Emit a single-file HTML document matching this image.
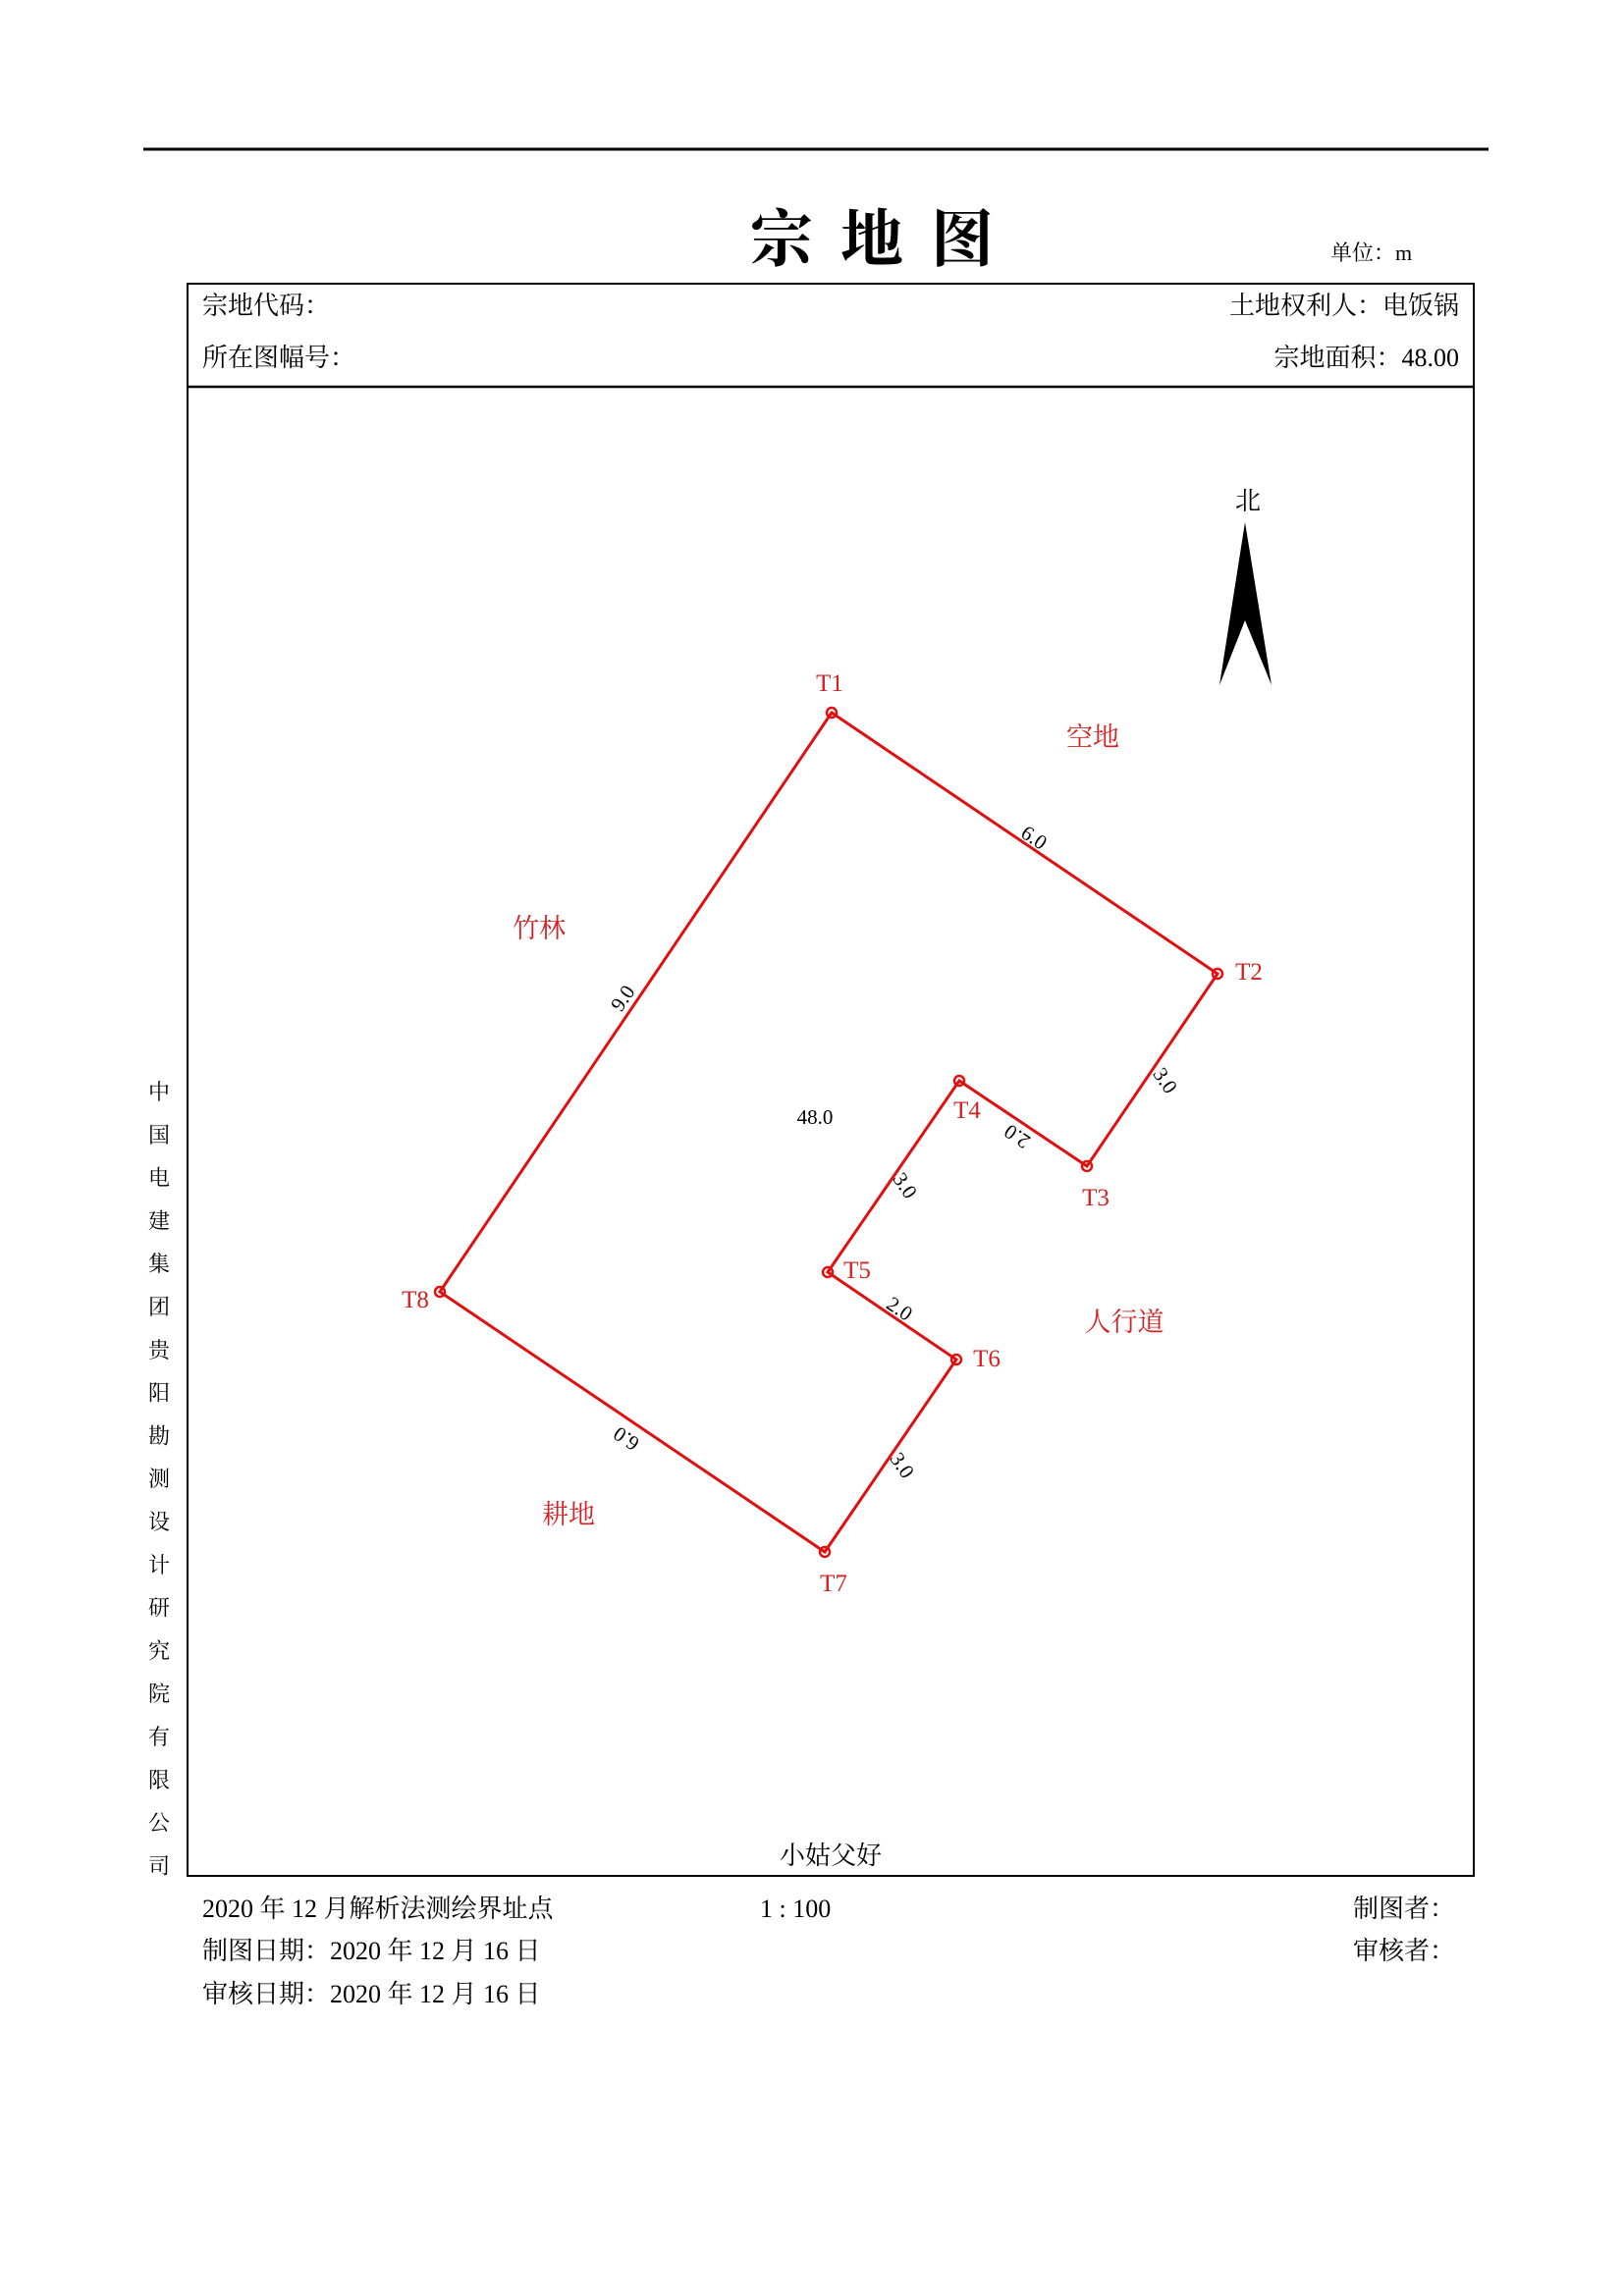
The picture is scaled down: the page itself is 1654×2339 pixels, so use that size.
<!DOCTYPE html>
<html><head><meta charset="utf-8"><style>
html,body{margin:0;padding:0;background:#fff;}
svg{display:block;}
text{font-family:"Liberation Serif","Noto Serif CJK SC",serif;}
</style></head><body>
<svg id="map" width="1654" height="2339" viewBox="0 0 1654 2339" xmlns="http://www.w3.org/2000/svg">
<line x1="146" y1="152" x2="1516" y2="152" stroke="#000" stroke-width="3"/>
<text x="902" y="266" font-size="64" font-weight="bold" text-anchor="middle" letter-spacing="28">宗地图</text>
<text x="1355" y="265" font-size="22">单位：m</text>
<rect x="191" y="289" width="1310" height="1622" fill="none" stroke="#000" stroke-width="2"/>
<line x1="191" y1="394" x2="1501" y2="394" stroke="#000" stroke-width="2.5"/>
<text x="206" y="320" font-size="26">宗地代码：</text>
<text x="1486" y="320" font-size="26" text-anchor="end">土地权利人：电饭锅</text>
<text x="206" y="373" font-size="26">所在图幅号：</text>
<text x="1486" y="373" font-size="26" text-anchor="end">宗地面积：48.00</text>
<text x="1271" y="519" font-size="26" text-anchor="middle">北</text>
<polygon points="1268,532 1295,698 1268,632 1242,698" fill="#000"/>
<g id="parcel"></g>
<g fill="#d42020" font-size="27" text-anchor="middle">
<text x="1113" y="760">空地</text>
<text x="549" y="955">竹林</text>
<text x="1145" y="1356">人行道</text>
<text x="579" y="1552">耕地</text>
</g>
<text x="830" y="1145" font-size="21" text-anchor="middle">48.0</text>
<text x="846" y="1899" font-size="26" text-anchor="middle">小姑父好</text>
<g id="vert" font-size="22" text-anchor="middle"></g>
<g font-size="26">
<text x="206" y="1953">2020 年 12 月解析法测绘界址点</text>
<text x="774" y="1953">1 : 100</text>
<text x="1378" y="1953">制图者：</text>
<text x="206" y="1996">制图日期：2020 年 12 月 16 日</text>
<text x="1378" y="1996">审核者：</text>
<text x="206" y="2040">审核日期：2020 年 12 月 16 日</text>
</g>
</svg>
<script>
const names=["T1","T2","T3","T4","T5","T6","T7","T8"];
const xs=[847,1240,1107,977,843,974,840,448];
const ys=[726,992,1188,1101,1296,1385,1581,1316];
const lengths=["6.0","3.0","2.0","3.0","2.0","3.0","6.0","9.0"];
const labelPos=[[1052,855],[1185,1102],[1037,1156],[920,1209],[915,1335],[917,1494],[639,1464],[636,1018]];
const labelRot=[34,56,214,56,34,56,214,-56];
const nameOff=[[-2,-22],[32,6],[9,40],[8,38],[30,6],[31,7],[9,40],[-25,16]];
const company="中国电建集团贵阳勘测设计研究院有限公司".split("");
const NS="http://www.w3.org/2000/svg";
const g=document.getElementById("parcel");
const poly=document.createElementNS(NS,"polygon");
poly.setAttribute("points",xs.map((x,i)=>x+","+ys[i]).join(" "));
poly.setAttribute("fill","none");poly.setAttribute("stroke","#e01010");poly.setAttribute("stroke-width","3");


g.appendChild(poly);
names.forEach((n,i)=>{
  const c=document.createElementNS(NS,"circle");
  c.setAttribute("cx",xs[i]);c.setAttribute("cy",ys[i]);c.setAttribute("r","5");
  c.setAttribute("fill","none");c.setAttribute("stroke","#e01010");c.setAttribute("stroke-width","2.5");
  
  
  g.appendChild(c);
  const t=document.createElementNS(NS,"text");
  t.setAttribute("x",xs[i]+nameOff[i][0]);t.setAttribute("y",ys[i]+nameOff[i][1]);
  t.setAttribute("font-size","25");t.setAttribute("fill","#d42020");t.setAttribute("text-anchor","middle");
  t.textContent=n;
  
  
  g.appendChild(t);
  const e=document.createElementNS(NS,"text");
  const p=labelPos[i];
  e.setAttribute("x",p[0]);e.setAttribute("y",p[1]);
  e.setAttribute("font-size","21");e.setAttribute("text-anchor","middle");e.setAttribute("dominant-baseline","middle");
  e.setAttribute("transform","rotate("+labelRot[i]+" "+p[0]+" "+p[1]+")");
  e.textContent=lengths[i];
  
  
  g.appendChild(e);
});
const v=document.getElementById("vert");
company.forEach((ch,i)=>{
  const t=document.createElementNS(NS,"text");
  t.setAttribute("x","162");t.setAttribute("y",1120+i*43.8);
  t.textContent=ch;
  
  
  v.appendChild(t);
});
</script>
</body></html>
